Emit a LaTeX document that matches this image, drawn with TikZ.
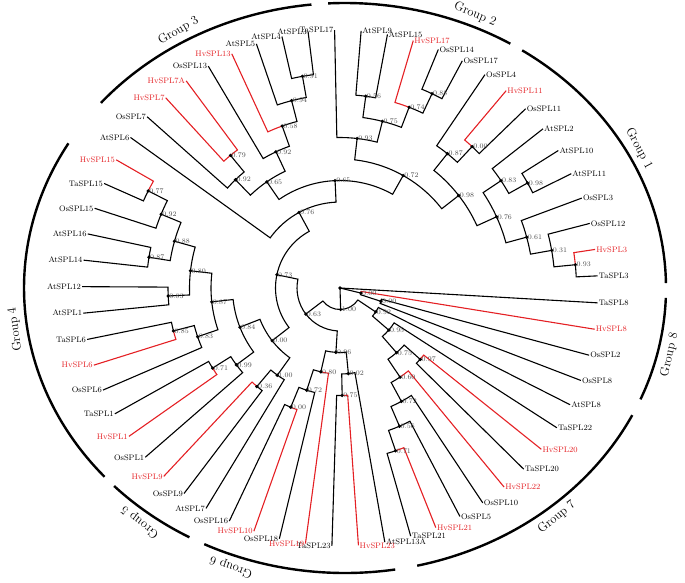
\documentclass[tikz,border=0pt]{standalone}
\usepackage{fontspec}
\usepackage{tikz}
\usepackage{xcolor}
\usetikzlibrary{calc}
\definecolor{hvred}{RGB}{228,32,36}
% branch: radial from child, then arc at the parent's radius
\newcommand{\brn}[3][]{\draw[tree,#1] let \p1=(#2), \p2=(#3), \n1={atan2(\y1,\x1)}, \n2={veclen(\x2,\y2)}, \n3={\n1+mod(atan2(\y2,\x2)-\n1+540,360)-180} in (#2) -- (\n1:\n2) arc[start angle=\n1, end angle=\n3, radius=\n2];}

\begin{document}
\begin{tikzpicture}[x=1pt,y=1pt,
  tree/.style={line width=1.1pt},
  hv/.style={text=hvred},
  leafR/.style={anchor=west,inner sep=1pt,font=\fontsize{8}{9}\selectfont},
  leafL/.style={anchor=east,inner sep=1pt,font=\fontsize{8}{9}\selectfont},
  bs/.style={anchor=west,inner sep=1pt,text=black!70,font=\fontsize{7}{8}\selectfont},
  grp/.style={line width=2.4pt},
  glab/.style={font=\fontsize{12.5}{14}\selectfont}]
\useasboundingbox (-340,-294) rectangle (345,288);
% internal nodes
\coordinate (root) at (0,0);
\coordinate (n000e) at (346.38:21.5);
\coordinate (n100b) at (271.7:21.5);
\coordinate (n000d) at (341.95:43);
\coordinate (n063) at (217.26:43);
\coordinate (n092d) at (326.14:43);
\coordinate (n073) at (168.15:64.5);
\coordinate (n096) at (266.36:64.5);
\coordinate (n095) at (319.18:64.5);
\coordinate (n076b) at (118.47:86);
\coordinate (n000b) at (217.82:86);
\coordinate (n080b) at (257.14:86);
\coordinate (n002) at (275.58:86);
\coordinate (n075c) at (311.16:86);
\coordinate (n065) at (92.63:107.5);
\coordinate (n084) at (201.37:107.5);
\coordinate (n100) at (234.28:107.5);
\coordinate (n072b) at (251.98:107.5);
\coordinate (n075b) at (271.15:107.5);
\coordinate (n097) at (318.35:107.5);
\coordinate (n060) at (303.97:107.5);
\coordinate (n072) at (60.69:129);
\coordinate (n065b) at (124.57:129);
\coordinate (n087c) at (186.16:129);
\coordinate (n099) at (216.58:129);
\coordinate (n036) at (229.85:129);
\coordinate (n000c) at (247.55:129);
\coordinate (n072c) at (298.44:129);
\coordinate (n093b) at (83.46:150.5);
\coordinate (n098) at (37.92:150.5);
\coordinate (n092a) at (115.17:150.5);
\coordinate (n092b) at (133.98:150.5);
\coordinate (n080) at (173.43:150.5);
\coordinate (n083c) at (198.88:150.5);
\coordinate (n071) at (212.15:150.5);
\coordinate (n056b) at (293.28:150.5);
\coordinate (n075) at (75.72:172);
\coordinate (n087) at (51.38:172);
\coordinate (n076) at (24.46:172);
\coordinate (n058) at (109.64:172);
\coordinate (n079) at (129.55:172);
\coordinate (n088b) at (164.21:172);
\coordinate (n083b) at (182.65:172);
\coordinate (n085) at (194.45:172);
\coordinate (n071b) at (288.85:172);
\coordinate (n056) at (82.35:193.5);
\coordinate (n074) at (69.08:193.5);
\coordinate (n000a) at (46.95:193.5);
\coordinate (n083) at (33.68:193.5);
\coordinate (n061) at (15.24:193.5);
\coordinate (n094) at (104.48:193.5);
\coordinate (n092c) at (157.58:193.5);
\coordinate (n087b) at (170.85:193.5);
\coordinate (n088) at (64.65:215);
\coordinate (n098b) at (29.25:215);
\coordinate (n031) at (10.08:215);
\coordinate (n091) at (100.05:215);
\coordinate (n077) at (153.15:215);
\coordinate (n093) at (5.65:236.5);
% leaves
\node[leafR] (TaSPL8) at (-3.3:258) {TaSPL8};
\node[leafR,hv] (HvSPL8) at (-9.2:258) {HvSPL8};
\node[leafR] (OsSPL2) at (-15.1:258) {OsSPL2};
\node[leafR] (OsSPL8) at (-21.0:258) {OsSPL8};
\node[leafR] (AtSPL8) at (-26.9:258) {AtSPL8};
\node[leafR] (TaSPL22) at (-32.8:258) {TaSPL22};
\node[leafR,hv] (HvSPL20) at (-38.7:258) {HvSPL20};
\node[leafR] (TaSPL20) at (-44.6:258) {TaSPL20};
\node[leafR,hv] (HvSPL22) at (-50.5:258) {HvSPL22};
\node[leafR] (OsSPL10) at (-56.4:258) {OsSPL10};
\node[leafR] (OsSPL5) at (-62.3:258) {OsSPL5};
\node[leafR,hv] (HvSPL21) at (-68.2:258) {HvSPL21};
\node[leafR] (TaSPL21) at (-74.1:258) {TaSPL21};
\node[leafR] (AtSPL13A) at (-80.0:258) {AtSPL13A};
\node[leafR,hv] (HvSPL23) at (-85.9:258) {HvSPL23};
\node[leafL] (TaSPL23) at (-91.8:258) {TaSPL23};
\node[leafL,hv] (HvSPL19) at (-97.7:258) {HvSPL19};
\node[leafL] (OsSPL18) at (-103.6:258) {OsSPL18};
\node[leafL,hv] (HvSPL10) at (-109.5:258) {HvSPL10};
\node[leafL] (OsSPL16) at (-115.4:258) {OsSPL16};
\node[leafL] (AtSPL7) at (-121.3:258) {AtSPL7};
\node[leafL] (OsSPL9) at (-127.2:258) {OsSPL9};
\node[leafL,hv] (HvSPL9) at (-133.1:258) {HvSPL9};
\node[leafL] (OsSPL1) at (-139.0:258) {OsSPL1};
\node[leafL,hv] (HvSPL1) at (-144.9:258) {HvSPL1};
\node[leafL] (TaSPL1) at (-150.8:258) {TaSPL1};
\node[leafL] (OsSPL6) at (-156.7:258) {OsSPL6};
\node[leafL,hv] (HvSPL6) at (-162.6:258) {HvSPL6};
\node[leafL] (TaSPL6) at (-168.5:258) {TaSPL6};
\node[leafL] (AtSPL1) at (-174.4:258) {AtSPL1};
\node[leafL] (AtSPL12) at (179.7:258) {AtSPL12};
\node[leafL] (AtSPL14) at (173.8:258) {AtSPL14};
\node[leafL] (AtSPL16) at (167.9:258) {AtSPL16};
\node[leafL] (OsSPL15) at (162.0:258) {OsSPL15};
\node[leafL] (TaSPL15) at (156.1:258) {TaSPL15};
\node[leafL,hv] (HvSPL15) at (150.2:258) {HvSPL15};
\node[leafL] (AtSPL6) at (144.3:258) {AtSPL6};
\node[leafL] (OsSPL7) at (138.4:258) {OsSPL7};
\node[leafL,hv] (HvSPL7) at (132.5:258) {HvSPL7};
\node[leafL,hv] (HvSPL7A) at (126.6:258) {HvSPL7A};
\node[leafL] (OsSPL13) at (120.7:258) {OsSPL13};
\node[leafL,hv] (HvSPL13) at (114.8:258) {HvSPL13};
\node[leafL] (AtSPL5) at (108.9:258) {AtSPL5};
\node[leafL] (AtSPL4) at (103.0:258) {AtSPL4};
\node[leafL] (AtSPL3) at (97.1:258) {AtSPL3};
\node[leafL] (TaSPL17) at (91.2:258) {TaSPL17};
\node[leafR] (AtSPL9) at (85.3:258) {AtSPL9};
\node[leafR] (AtSPL15) at (79.4:258) {AtSPL15};
\node[leafR,hv] (HvSPL17) at (73.5:258) {HvSPL17};
\node[leafR] (OsSPL14) at (67.6:258) {OsSPL14};
\node[leafR] (OsSPL17) at (61.7:258) {OsSPL17};
\node[leafR] (OsSPL4) at (55.8:258) {OsSPL4};
\node[leafR,hv] (HvSPL11) at (49.9:258) {HvSPL11};
\node[leafR] (OsSPL11) at (44.0:258) {OsSPL11};
\node[leafR] (AtSPL2) at (38.1:258) {AtSPL2};
\node[leafR] (AtSPL10) at (32.2:258) {AtSPL10};
\node[leafR] (AtSPL11) at (26.3:258) {AtSPL11};
\node[leafR] (OsSPL3) at (20.4:258) {OsSPL3};
\node[leafR] (OsSPL12) at (14.5:258) {OsSPL12};
\node[leafR,hv] (HvSPL3) at (8.6:258) {HvSPL3};
\node[leafR] (TaSPL3) at (2.7:258) {TaSPL3};
% leaf branches
\draw[tree] (TaSPL8.west) -- (root);
\brn[hvred]{HvSPL8.west}{n000e}
\brn{OsSPL2.west}{n000d}
\brn{OsSPL8.west}{n000d}
\brn{AtSPL8.west}{n092d}
\brn{TaSPL22.west}{n095}
\brn[hvred]{HvSPL20.west}{n097}
\brn{TaSPL20.west}{n097}
\brn[hvred]{HvSPL22.west}{n060}
\brn{OsSPL10.west}{n072c}
\brn{OsSPL5.west}{n056b}
\brn[hvred]{HvSPL21.west}{n071b}
\brn{TaSPL21.west}{n071b}
\brn{AtSPL13A.west}{n002}
\brn[hvred]{HvSPL23.west}{n075b}
\brn{TaSPL23.east}{n075b}
\brn[hvred]{HvSPL19.east}{n080b}
\brn{OsSPL18.east}{n072b}
\brn[hvred]{HvSPL10.east}{n000c}
\brn{OsSPL16.east}{n000c}
\brn{AtSPL7.east}{n100}
\brn{OsSPL9.east}{n036}
\brn[hvred]{HvSPL9.east}{n036}
\brn{OsSPL1.east}{n099}
\brn[hvred]{HvSPL1.east}{n071}
\brn{TaSPL1.east}{n071}
\brn{OsSPL6.east}{n083c}
\brn[hvred]{HvSPL6.east}{n085}
\brn{TaSPL6.east}{n085}
\brn{AtSPL1.east}{n083b}
\brn{AtSPL12.east}{n083b}
\brn{AtSPL14.east}{n087b}
\brn{AtSPL16.east}{n087b}
\brn{OsSPL15.east}{n092c}
\brn{TaSPL15.east}{n077}
\brn[hvred]{HvSPL15.east}{n077}
\brn{AtSPL6.east}{n076b}
\brn{OsSPL7.east}{n092b}
\brn[hvred]{HvSPL7.east}{n079}
\brn[hvred]{HvSPL7A.east}{n079}
\brn{OsSPL13.east}{n092a}
\brn[hvred]{HvSPL13.east}{n058}
\brn{AtSPL5.east}{n094}
\brn{AtSPL4.east}{n091}
\brn{AtSPL3.east}{n091}
\brn{TaSPL17.east}{n093b}
\brn{AtSPL9.west}{n056}
\brn{AtSPL15.west}{n056}
\brn[hvred]{HvSPL17.west}{n074}
\brn{OsSPL14.west}{n088}
\brn{OsSPL17.west}{n088}
\brn{OsSPL4.west}{n087}
\brn[hvred]{HvSPL11.west}{n000a}
\brn{OsSPL11.west}{n000a}
\brn{AtSPL2.west}{n083}
\brn{AtSPL10.west}{n098b}
\brn{AtSPL11.west}{n098b}
\brn{OsSPL3.west}{n061}
\brn{OsSPL12.west}{n031}
\brn[hvred]{HvSPL3.west}{n093}
\brn{TaSPL3.west}{n093}
% inner branches
\draw[tree] (n000e) -- (root);
\draw[tree] (n100b) -- (root);
\brn{n000d}{n000e}
\brn{n063}{n100b}
\brn{n092d}{n100b}
\brn{n073}{n063}
\brn{n096}{n063}
\brn{n095}{n092d}
\brn{n076b}{n073}
\brn{n000b}{n073}
\brn{n080b}{n096}
\brn{n002}{n096}
\brn{n075c}{n095}
\brn{n065}{n076b}
\brn{n084}{n000b}
\brn{n100}{n000b}
\brn{n072b}{n080b}
\brn{n075b}{n002}
\brn{n097}{n075c}
\brn{n060}{n075c}
\brn{n072}{n065}
\brn{n065b}{n065}
\brn{n087c}{n084}
\brn{n099}{n084}
\brn{n036}{n100}
\brn{n000c}{n072b}
\brn{n072c}{n060}
\brn{n093b}{n072}
\brn{n098}{n072}
\brn{n092a}{n065b}
\brn{n092b}{n065b}
\brn{n080}{n087c}
\brn{n083c}{n087c}
\brn{n071}{n099}
\brn{n056b}{n072c}
\brn{n075}{n093b}
\brn{n087}{n098}
\brn{n076}{n098}
\brn{n058}{n092a}
\brn{n079}{n092b}
\brn{n088b}{n080}
\brn{n083b}{n080}
\brn{n085}{n083c}
\brn{n071b}{n056b}
\brn{n056}{n075}
\brn{n074}{n075}
\brn{n000a}{n087}
\brn{n083}{n076}
\brn{n061}{n076}
\brn{n094}{n058}
\brn{n092c}{n088b}
\brn{n087b}{n088b}
\brn{n088}{n074}
\brn{n098b}{n083}
\brn{n031}{n061}
\brn{n091}{n094}
\brn{n077}{n092c}
\brn{n093}{n031}
% dots and support values
\fill (root) circle (1.8pt);
\fill (n000e) circle (1.8pt) node[bs] (v000e) {0.00};
\fill (n100b) circle (1.8pt) node[bs] (v100b) {1.00};
\fill (n000d) circle (1.8pt) node[bs] (v000d) {0.00};
\fill (n063) circle (1.8pt) node[bs] (v063) {0.63};
\fill (n092d) circle (1.8pt) node[bs] (v092d) {0.92};
\fill (n073) circle (1.8pt) node[bs] (v073) {0.73};
\fill (n096) circle (1.8pt) node[bs] (v096) {0.96};
\fill (n095) circle (1.8pt) node[bs] (v095) {0.95};
\fill (n076b) circle (1.8pt) node[bs] (v076b) {0.76};
\fill (n000b) circle (1.8pt) node[bs] (v000b) {0.00};
\fill (n080b) circle (1.8pt) node[bs] (v080b) {0.80};
\fill (n002) circle (1.8pt) node[bs] (v002) {0.02};
\fill (n075c) circle (1.8pt) node[bs] (v075c) {0.75};
\fill (n065) circle (1.8pt) node[bs] (v065) {0.65};
\fill (n084) circle (1.8pt) node[bs] (v084) {0.84};
\fill (n100) circle (1.8pt) node[bs] (v100) {1.00};
\fill (n072b) circle (1.8pt) node[bs] (v072b) {0.72};
\fill (n075b) circle (1.8pt) node[bs] (v075b) {0.75};
\fill (n097) circle (1.8pt) node[bs] (v097) {0.97};
\fill (n060) circle (1.8pt) node[bs] (v060) {0.60};
\fill (n072) circle (1.8pt) node[bs] (v072) {0.72};
\fill (n065b) circle (1.8pt) node[bs] (v065b) {0.65};
\fill (n087c) circle (1.8pt) node[bs] (v087c) {0.87};
\fill (n099) circle (1.8pt) node[bs] (v099) {0.99};
\fill (n036) circle (1.8pt) node[bs] (v036) {0.36};
\fill (n000c) circle (1.8pt) node[bs] (v000c) {0.00};
\fill (n072c) circle (1.8pt) node[bs] (v072c) {0.72};
\fill (n093b) circle (1.8pt) node[bs] (v093b) {0.93};
\fill (n098) circle (1.8pt) node[bs] (v098) {0.98};
\fill (n092a) circle (1.8pt) node[bs] (v092a) {0.92};
\fill (n092b) circle (1.8pt) node[bs] (v092b) {0.92};
\fill (n080) circle (1.8pt) node[bs] (v080) {0.80};
\fill (n083c) circle (1.8pt) node[bs] (v083c) {0.83};
\fill (n071) circle (1.8pt) node[bs] (v071) {0.71};
\fill (n056b) circle (1.8pt) node[bs] (v056b) {0.56};
\fill (n075) circle (1.8pt) node[bs] (v075) {0.75};
\fill (n087) circle (1.8pt) node[bs] (v087) {0.87};
\fill (n076) circle (1.8pt) node[bs] (v076) {0.76};
\fill (n058) circle (1.8pt) node[bs] (v058) {0.58};
\fill (n079) circle (1.8pt) node[bs] (v079) {0.79};
\fill (n088b) circle (1.8pt) node[bs] (v088b) {0.88};
\fill (n083b) circle (1.8pt) node[bs] (v083b) {0.83};
\fill (n085) circle (1.8pt) node[bs] (v085) {0.85};
\fill (n071b) circle (1.8pt) node[bs] (v071b) {0.71};
\fill (n056) circle (1.8pt) node[bs] (v056) {0.56};
\fill (n074) circle (1.8pt) node[bs] (v074) {0.74};
\fill (n000a) circle (1.8pt) node[bs] (v000a) {0.00};
\fill (n083) circle (1.8pt) node[bs] (v083) {0.83};
\fill (n061) circle (1.8pt) node[bs] (v061) {0.61};
\fill (n094) circle (1.8pt) node[bs] (v094) {0.94};
\fill (n092c) circle (1.8pt) node[bs] (v092c) {0.92};
\fill (n087b) circle (1.8pt) node[bs] (v087b) {0.87};
\fill (n088) circle (1.8pt) node[bs] (v088) {0.88};
\fill (n098b) circle (1.8pt) node[bs] (v098b) {0.98};
\fill (n031) circle (1.8pt) node[bs] (v031) {0.31};
\fill (n091) circle (1.8pt) node[bs] (v091) {0.91};
\fill (n077) circle (1.8pt) node[bs] (v077) {0.77};
\fill (n093) circle (1.8pt) node[bs] (v093) {0.93};
% group arcs
\draw[grp] ([shift={(5,0)}]1:321 and 285) arc[start angle=1, end angle=56.5, x radius=321, y radius=285];
\draw[grp] ([shift={(5,0)}]59:321 and 285) arc[start angle=59, end angle=93, x radius=321, y radius=285];
\draw[grp] ([shift={(5,0)}]96:321 and 285) arc[start angle=96, end angle=139.5, x radius=321, y radius=285];
\draw[grp] ([shift={(5,0)}]149.5:321 and 285) arc[start angle=149.5, end angle=221.5, x radius=321, y radius=285];
\draw[grp] ([shift={(5,0)}]224:321 and 285) arc[start angle=224, end angle=241, x radius=321, y radius=285];
\draw[grp] ([shift={(5,0)}]244:321 and 285) arc[start angle=244, end angle=279, x radius=321, y radius=285];
\draw[grp] ([shift={(5,0)}]283:321 and 285) arc[start angle=283, end angle=333.5, x radius=321, y radius=285];
\draw[grp] ([shift={(5,0)}]337:321 and 285) arc[start angle=337, end angle=358, x radius=321, y radius=285];
\node[glab,rotate=-62] (g1) at ([shift={(5,0)}]28:333 and 297) {Group 1};
\node[glab,rotate=-23] (g2) at ([shift={(5,0)}]67:333 and 297) {Group 2};
\node[glab,rotate=30] (g3) at ([shift={(5,0)}]120:333 and 297) {Group 3};
\node[glab,rotate=98] (g4) at ([shift={(5,0)}]188:333 and 297) {Group 4};
\node[glab,rotate=142] (g5) at ([shift={(5,0)}]232:333 and 297) {Group 5};
\node[glab,rotate=160] (g6) at ([shift={(5,0)}]250:333 and 297) {Group 6};
\node[glab,rotate=39.5] (g7) at ([shift={(5,0)}]309.5:333 and 297) {Group 7};
\node[glab,rotate=77] (g8) at ([shift={(5,0)}]347:333 and 297) {Group 8};
\end{tikzpicture}
\end{document}
